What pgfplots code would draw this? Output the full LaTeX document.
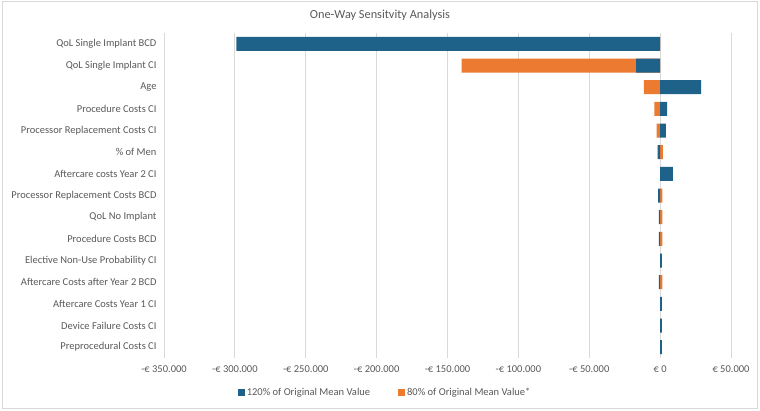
\documentclass[border=0pt]{standalone}
\usepackage{pgfplots}
\pgfplotsset{compat=1.18}
\usepackage{fontspec}
\setmainfont{Carlito}
\definecolor{cblue}{HTML}{1F6289}
\definecolor{corange}{HTML}{EC7A31}
\definecolor{tgray}{HTML}{595959}
\definecolor{ggray}{HTML}{D9D9D9}
\begin{document}
\begin{tikzpicture}[x=1pt,y=1pt]
\path[use as bounding box] (0,0) rectangle (760,410);
\draw[ggray, line width=0.8pt] (2,2) rectangle (757.5,408.5);
\node[text=tgray, font=\fontsize{12.3}{14}\selectfont] at (380,395) {One-Way Sensitvity Analysis};
\begin{axis}[
  at={(164pt,52pt)}, anchor=south west,
  scale only axis, width=567pt, height=325pt,
  xmin=-350000, xmax=50000, ymin=-0.5, ymax=14.5,
  y dir=reverse,
  xbar, bar width=14pt, bar shift=0pt,
  scaled x ticks=false,
  xtick={-350000,-300000,-250000,-200000,-150000,-100000,-50000,0,50000},
  xticklabels={-€ 350.000,-€ 300.000,-€ 250.000,-€ 200.000,-€ 150.000,-€ 100.000,-€ 50.000,€ 0,€ 50.000},
  ytick={0,1,...,14},
  yticklabels={QoL Single Implant BCD,QoL Single Implant CI,Age,Procedure Costs CI,Processor Replacement Costs CI,\% of Men,Aftercare costs Year 2 CI,Processor Replacement Costs BCD,QoL No Implant,Procedure Costs BCD,Elective Non-Use Probability CI,Aftercare Costs after Year 2 BCD,Aftercare Costs Year 1 CI,Device Failure Costs CI,Preprocedural Costs CI},
  tick label style={text=tgray, font=\fontsize{10.5}{12}\selectfont},
  yticklabel style={xshift=-4pt},
  xticklabel style={yshift=-4pt},
  major tick length=0pt,
  xmajorgrids, major grid style={ggray, line width=0.8pt},
  axis y line*=left, axis x line*=bottom,
  x axis line style={draw=none},
  y axis line style={ggray, line width=0.8pt},
  legend style={at={(0.390,-0.105)}, anchor=center, draw=none, legend columns=2,
    font=\fontsize{10.5}{12}\selectfont, text=tgray,
    /tikz/every even column/.append style={column sep=26pt}},
  legend image code/.code={\fill[#1] (0pt,-3.5pt) rectangle (7pt,3.5pt);},
]
\addplot[fill=corange, draw=none, forget plot] coordinates {
(0,0) (-140000,1) (-11500,2) (-4000,3) (-2500,4) (2000,5) (0,6) (1500,7) (1500,8) (1500,9) (300,10) (1500,11) (0,12) (0,13) (0,14)};
\addplot[fill=cblue, draw=none] coordinates {
(-299000,0) (-17000,1) (29000,2) (5000,3) (4000,4) (-1800,5) (9000,6) (-1500,7) (-800,8) (-800,9) (1200,10) (-800,11) (1200,12) (1200,13) (1200,14)};
\addlegendentry{120\% of Original Mean Value}
\addlegendimage{fill=corange, draw=none}
\addlegendentry{80\% of Original Mean Value*}
\end{axis}
\end{tikzpicture}
\end{document}
